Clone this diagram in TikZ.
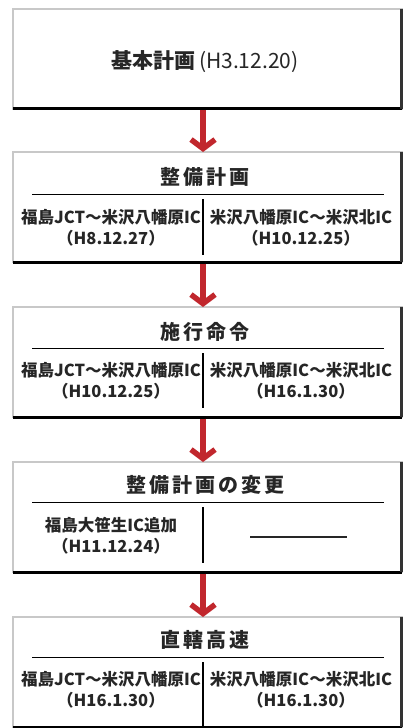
\documentclass[tikz,border=0pt]{standalone}
\usepackage{fontspec}
\setmainfont{Noto Sans CJK JP}
\newfontfamily\cjk{Noto Sans CJK JP}
\newfontfamily\cjktitle{Noto Sans CJK JP}[LetterSpace=15]
\usetikzlibrary{arrows.meta}
\definecolor{arrowred}{HTML}{C1272D}
\definecolor{txt}{HTML}{262626}
\definecolor{edgegray}{HTML}{C8C8C8}
\begin{document}
\begin{tikzpicture}[x=1pt,y=-1pt,
  box/.style={draw=edgegray, line width=2.5pt, fill=white, outer sep=0pt, inner sep=0pt,
    minimum width=388.5pt, minimum height=110pt},
  shadowb/.style={black, line width=3pt},
  shadowr/.style={black!80, line width=2.5pt},
  ttl/.style={font=\cjktitle\bfseries\fontsize{20}{24}\selectfont, text=txt, inner sep=0pt},
  cell/.style={font=\cjk\bfseries\fontsize{16.5}{21}\selectfont, text=txt, align=center, inner sep=0pt},
  rule/.style={black, line width=1pt},
  vrule/.style={black, line width=1.2pt},
  flow/.style={arrowred, line width=5.5pt, -{Straight Barb[length=9pt,width=24pt]}}
]
\useasboundingbox (0,0) rectangle (404,728);
\fill[white] (0,0) rectangle (404,728);

% box 1
\node[box, minimum height=99.5pt] (b1) at (207.25,58.75) {};
\draw[shadowb] (b1.south west) -- (b1.south east);
\draw[shadowr] (b1.south east) -- (b1.north east);
\node[font=\cjk\fontsize{21}{24}\selectfont, text=txt, inner sep=0pt] (t1) at (205,62)
  {{\bfseries 基本計画}\,(H3.12.20)};

% box 2
\node[box] (b2) at (207.25,207) {};
\draw[shadowb] (b2.south west) -- (b2.south east);
\draw[shadowr] (b2.south east) -- (b2.north east);
\node[ttl] (t2) at (205,177) {整備計画};
\coordinate (r2a) at (32,194); \coordinate (r2b) at (384,194);
\draw[rule] (r2a) -- (r2b);
\coordinate (v2a) at (203,199); \coordinate (v2b) at (203,255);
\draw[vrule] (v2a) -- (v2b);
\node[cell] (l2) at (111,228) {福島JCT～米沢八幡原IC\\（H8.12.27）};
\node[cell] (c2) at (301,228) {米沢八幡原IC～米沢北IC\\（H10.12.25）};

% box 3
\node[box] (b3) at (207.25,362) {};
\draw[shadowb] (b3.south west) -- (b3.south east);
\draw[shadowr] (b3.south east) -- (b3.north east);
\node[ttl] (t3) at (205,332) {施行命令};
\coordinate (r3a) at (32,348); \coordinate (r3b) at (384,348);
\draw[rule] (r3a) -- (r3b);
\coordinate (v3a) at (203,353); \coordinate (v3b) at (203,408);
\draw[vrule] (v3a) -- (v3b);
\node[cell] (l3) at (111,381) {福島JCT～米沢八幡原IC\\（H10.12.25）};
\node[cell] (c3) at (301,381) {米沢八幡原IC～米沢北IC\\（H16.1.30）};

% box 4
\node[box] (b4) at (207.25,517) {};
\draw[shadowb] (b4.south west) -- (b4.south east);
\draw[shadowr] (b4.south east) -- (b4.north east);
\node[ttl] (t4) at (205,485) {整備計画の変更};
\coordinate (r4a) at (32,502); \coordinate (r4b) at (384,502);
\draw[rule] (r4a) -- (r4b);
\coordinate (v4a) at (203,507); \coordinate (v4b) at (203,563);
\draw[vrule] (v4a) -- (v4b);
\node[cell] (l4) at (111,536) {福島大笹生IC追加\\（H11.12.24）};
\coordinate (d4a) at (250,537); \coordinate (d4b) at (347,537);
\draw[black!85, line width=1.4pt] (d4a) -- (d4b);

% box 5
\node[box] (b5) at (207.25,672) {};
\draw[shadowb] (b5.south west) -- (b5.south east);
\draw[shadowr] (b5.south east) -- (b5.north east);
\node[ttl] (t5) at (205,640) {直轄高速};
\coordinate (r5a) at (32,657); \coordinate (r5b) at (384,657);
\draw[rule] (r5a) -- (r5b);
\coordinate (v5a) at (203,662); \coordinate (v5b) at (203,727);
\draw[vrule] (v5a) -- (v5b);
\node[cell] (l5) at (111,690) {福島JCT～米沢八幡原IC\\（H16.1.30）};
\node[cell] (c5) at (301,690) {米沢八幡原IC～米沢北IC\\（H16.1.30）};

% arrows
\draw[flow] ([xshift=-4.25pt,yshift=-1.5pt]b1.south) -- ([xshift=-4.25pt]b2.north);
\draw[flow] ([xshift=-4.25pt,yshift=-1.5pt]b2.south) -- ([xshift=-4.25pt]b3.north);
\draw[flow] ([xshift=-4.25pt,yshift=-1.5pt]b3.south) -- ([xshift=-4.25pt]b4.north);
\draw[flow] ([xshift=-4.25pt,yshift=-1.5pt]b4.south) -- ([xshift=-4.25pt]b5.north);
\end{tikzpicture}
\end{document}
